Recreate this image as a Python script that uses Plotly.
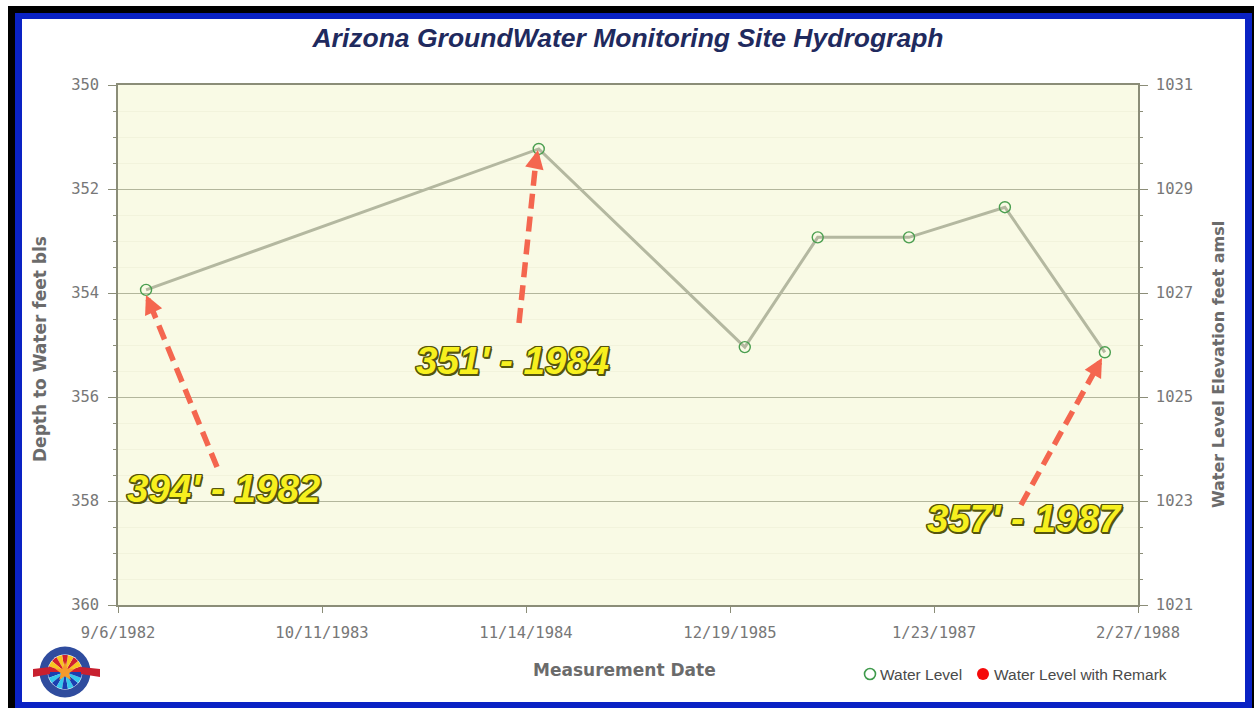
import math
import plotly.graph_objects as go

W, H = 1254, 708
L, R, T, B = 118, 1138, 85, 605

dates = ["1982-10-31", "1984-12-09", "1986-01-17", "1986-06-09", "1986-12-05", "1987-06-11", "1987-12-24"]
depth = [353.94, 351.23, 355.04, 352.93, 352.93, 352.35, 355.14]
elevation = [1027.06, 1029.77, 1025.96, 1028.07, 1028.07, 1028.65, 1025.86]
tick_dates = ["1982-09-06", "1983-10-11", "1984-11-14", "1985-12-19", "1987-01-23", "1988-02-27"]
tick_labels = ["9/6/1982", "10/11/1983", "11/14/1984", "12/19/1985", "1/23/1987", "2/27/1988"]
callouts = ["394' - 1982", "351' - 1984", "357' - 1987"]
legend_names = ["Water Level", "Water Level with Remark"]


def px(x):
    return (x - L) / (R - L)


def py(y):
    return (B - y) / (B - T)


def rect(x0, y0, x1, y1, fill, layer="below"):
    return dict(type="rect", xref="paper", yref="paper", x0=px(x0), x1=px(x1), y0=py(y0), y1=py(y1),
                fillcolor=fill, line=dict(width=0), layer=layer)


def circle(cx, cy, r, fill=None, line=None, lw=0):
    return dict(type="circle", xref="paper", yref="paper", x0=px(cx - r), x1=px(cx + r), y0=py(cy + r), y1=py(cy - r),
                fillcolor=fill or "rgba(0,0,0,0)", line=dict(color=line or "rgba(0,0,0,0)", width=lw), layer="above")


def sector(cx, cy, r, a0, a1, fill):
    p = f"M {px(cx)} {py(cy)}"
    for i in range(5):
        a = math.radians(a0 + (a1 - a0) * i / 4)
        p += f" L {px(cx + r * math.cos(a))} {py(cy - r * math.sin(a))}"
    return dict(type="path", xref="paper", yref="paper", path=p + " Z", fillcolor=fill, line=dict(width=0), layer="above")


def poly(points, fill):
    p = "M " + " L ".join(f"{px(x)} {py(y)}" for x, y in points) + " Z"
    return dict(type="path", xref="paper", yref="paper", path=p, fillcolor=fill, line=dict(width=0), layer="above")


def arrow_line(x0, y0, x1, y1):
    return dict(type="line", xref="paper", yref="paper", x0=px(x0), y0=py(y0), x1=px(x1), y1=py(y1),
                line=dict(color="#f4664f", width=5.5, dash="15px,8px"), layer="above")


# frame drawn as bands so the plot area stays visible
shapes = [
    rect(8, 6, W, 13, "#000000"),
    rect(8, 6, 15, H, "#000000"),
    rect(15, 13, 1252, 19, "#0a22c4"),
    rect(15, 13, 22, H, "#0a22c4"),
    rect(1245, 13, 1252, H, "#0a22c4"),
    rect(15, 702, 1252, H, "#0a22c4"),
    rect(1252, 6, W, H, "#000000"),
]

# arrows: dashed shaft, then the head as a short annotation
arrows = [(217, 467, 150, 304, 146, 295), (519, 323, 536, 160, 538, 150), (1021, 505, 1097, 367, 1102, 358)]
for a in arrows:
    shapes.append(arrow_line(a[0], a[1], a[2], a[3]))

# legend glyphs
shapes.append(circle(870, 674, 5.5, None, "#3f9a4c", 1.6))
shapes.append(circle(983, 674, 6, "#f50a0a"))

# logo
lx, ly = 65, 672
shapes.append(circle(lx, ly, 25.5, "#2f4c9e"))
shapes.append(circle(lx, ly, 17.5, "#ffffff"))
for i in range(9):
    a0 = i * 20
    shapes.append(sector(lx, ly, 17, a0, a0 + 20, "#d11f2d" if i % 2 == 0 else "#f7c520"))
for i in range(9):
    a0 = 180 + i * 20
    shapes.append(sector(lx, ly, 17, a0, a0 + 20, "#1a3fb0" if i % 2 == 0 else "#35c8ec"))
shapes.append(poly([(33, 669), (50, 667), (50, 674), (33, 677)], "#c8202f"))
shapes.append(poly([(81, 667), (100, 669), (100, 677), (81, 674)], "#c8202f"))
star = []
for i in range(10):
    a = math.radians(90 + 36 * i)
    r = 10 if i % 2 == 0 else 4.2
    star.append((lx + r * math.cos(a), ly - r * math.sin(a)))
shapes.append(poly(star, "#f59a2c"))

fig = go.Figure()
fig.add_trace(go.Scatter(x=dates, y=depth, mode="lines+markers", name=legend_names[0], showlegend=False,
                         line=dict(color="#b4b8a0", width=3),
                         marker=dict(symbol="circle-open", size=11, color="#4a9e4f", line=dict(width=1.4))))
fig.add_trace(go.Scatter(x=dates, y=elevation, mode="lines", yaxis="y2", showlegend=False,
                         line=dict(width=0), opacity=0, hoverinfo="skip"))

annotations = []
shadow = ",".join(f"{dx}px {dy}px 0.6px #55550f" for dx, dy in
                  [(-1.5, 0), (1.5, 0), (0, -1.5), (0, 1.5), (-1.2, -1.2), (1.2, 1.2), (-1.2, 1.2), (1.2, -1.2), (1.8, 1.8)])
for text, (cx, cy) in zip(callouts, [(224, 488), (512, 360), (1024, 518)]):
    annotations.append(dict(text=f"<b><i>{text}</i></b>", xref="paper", yref="paper", x=px(cx), y=py(cy),
                            showarrow=False, xanchor="center", yanchor="middle",
                            font=dict(family="Liberation Sans", size=38.5, color="#f7f01e", shadow=shadow)))
for a in arrows:
    annotations.append(dict(text="", xref="paper", yref="paper", x=px(a[4]), y=py(a[5]),
                            axref="pixel", ayref="pixel", ax=a[2] - a[4], ay=a[3] - a[5], showarrow=True,
                            arrowhead=2, arrowsize=0.68, arrowwidth=5.5, arrowcolor="#f4664f"))
for name, x in zip(legend_names, [880, 994]):
    annotations.append(dict(text=name, xref="paper", yref="paper", x=px(x), y=py(674), showarrow=False,
                            xanchor="left", yanchor="middle", xshift=-2,
                            font=dict(family="Liberation Sans", size=15.5, color="#4a4a4a")))

title_font = dict(family="DejaVu Sans", size=17, color="#6b6b6b", weight="bold")
annotations.append(dict(text="Measurement Date", xref="paper", yref="paper", x=px(624), y=py(670), showarrow=False,
                        xanchor="center", yanchor="middle", font=title_font))
annotations.append(dict(text="Depth to Water feet bls", xref="paper", yref="paper", x=px(40), y=py(349), showarrow=False,
                        xanchor="center", yanchor="middle", textangle=-90, font=title_font))
annotations.append(dict(text="Water Level Elevation feet amsl", xref="paper", yref="paper", x=px(1218), y=py(365),
                        showarrow=False, xanchor="center", yanchor="middle", textangle=-90,
                        font=dict(family="DejaVu Sans", size=16, color="#6b6b6b", weight="bold")))

tick_font = dict(family="DejaVu Sans Mono", size=15.5, color="#777777")
axis_color = "#8b8d78"

fig.update_layout(
    width=W, height=H, autosize=False,
    margin=dict(l=L, r=W - R, t=T, b=H - B, pad=0),
    paper_bgcolor="#ffffff", plot_bgcolor="#f9fae5",
    showlegend=False,
    title=dict(text="<b><i>Arizona GroundWater Monitoring Site Hydrograph</i></b>", x=628 / W, xanchor="center",
               y=1 - 38 / H, yanchor="middle",
               font=dict(family="Liberation Sans", size=26.5, color="#1f2a5e")),
    xaxis=dict(type="date", range=[tick_dates[0], tick_dates[-1]], tickmode="array", tickvals=tick_dates,
               ticktext=tick_labels, showgrid=False, zeroline=False, showline=True, mirror=True, linecolor=axis_color,
               linewidth=1.5, ticks="outside", ticklen=6, tickcolor=axis_color, tickfont=tick_font,
               ticklabelstandoff=7),
    yaxis=dict(range=[360, 350], tick0=350, dtick=2, showline=True, linecolor=axis_color, linewidth=1.5, zeroline=False,
               gridcolor="#b3b69c", gridwidth=1, ticks="outside", ticklen=8, tickcolor=axis_color,
               tickfont=tick_font, ticklabelstandoff=6,
               minor=dict(dtick=0.5, tick0=350, showgrid=True, gridcolor="#f2f3dc", gridwidth=1, ticks="outside",
                          ticklen=3, tickcolor=axis_color)),
    yaxis2=dict(range=[1021, 1031], tick0=1021, dtick=2, overlaying="y", side="right", showline=True,
                linecolor=axis_color, linewidth=1.5, zeroline=False, showgrid=False, ticks="outside", ticklen=8,
                tickcolor=axis_color, tickfont=tick_font, ticklabelstandoff=5,
                minor=dict(dtick=0.5, tick0=1021, showgrid=False, ticks="outside", ticklen=3, tickcolor=axis_color)),
    shapes=shapes,
    annotations=annotations,
)

fig.write_html("out.html", config=dict(displayModeBar=False),
               post_script="document.body.style.margin='0';document.body.style.overflow='hidden';")
